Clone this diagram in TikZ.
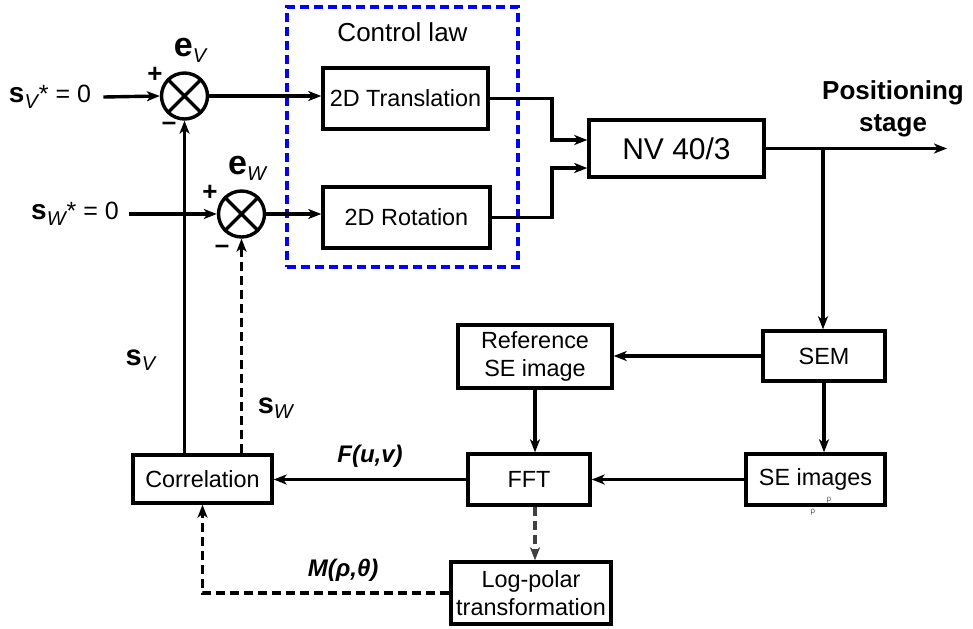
\documentclass[tikz,border=0pt]{standalone}
\usepackage{fontspec}
\setmainfont{Liberation Sans}
\usetikzlibrary{positioning,arrows.meta,calc}

\newcommand{\varlbl}[3]{{\fontsize{#3}{#3}\selectfont\bfseries #1}\textsubscript{\fontsize{10}{12}\selectfont\itshape #2}}

\begin{document}
\begin{tikzpicture}[
  x=0.5pt, y=-0.5pt,
  font=\fontsize{11.7}{14}\selectfont,
  box/.style={draw, line width=1.7pt, align=center, inner sep=1pt, fill=white},
  sumnode/.style={draw, circle, line width=1.7pt, minimum size=23pt, inner sep=0pt},
  sig/.style={-{Stealth[length=6.5pt, width=5pt, inset=1.8pt]}, line width=1.7pt},
  sigd/.style={sig, dash pattern=on 4.5pt off 2.5pt},
  lbl/.style={font=\fontsize{13}{16}\selectfont\bfseries, inner sep=1pt, align=center},
  flbl/.style={font=\fontsize{12}{14}\selectfont\bfseries\itshape, inner sep=1pt}
]
\useasboundingbox (0,0) rectangle (973,628);

% control law frame
\node[draw=blue, line width=1.7pt, dash pattern=on 4.5pt off 2.5pt,
      minimum width=115.5pt, minimum height=130pt] (law) at (402.5,137) {};
\node[below=5pt of law.north, font=\fontsize{13}{15}\selectfont] {Control law};

% blocks
\node[box, minimum width=82.5pt, minimum height=30.5pt] (trans) at (405.5,98.5) {2D Translation};
\node[box, minimum width=83.5pt, minimum height=30.5pt] (rot) at (406.5,217.5) {2D Rotation};
\node[box, minimum width=87.5pt, minimum height=28.5pt, font=\fontsize{15}{17}\selectfont] (nv) at (676.5,148.5) {NV 40/3};
\node[box, minimum width=61pt, minimum height=25pt] (sem) at (824,356) {SEM};
\node[box, minimum width=77pt, minimum height=31.5pt] (ref) at (535,356.5) {Reference\\SE image};
\node[box, minimum width=61pt, minimum height=25.5pt] (fft) at (529,479.5) {FFT};
\node[box, minimum width=69.5pt, minimum height=25.5pt] (seimg) at (815.5,479.5) {SE images};
\node[box, minimum width=69.5pt, minimum height=24pt] (corr) at (202.5,479) {Correlation};
\node[box, minimum width=80pt, minimum height=31pt] (logp) at (531,593) {Log-polar\\transformation};

% comparators
\node[sumnode] (ev) at (184.5,96) {};
\node[sumnode] (ew) at (241.5,214) {};
\foreach \c in {ev,ew}
  \draw[line width=1.7pt] (\c.north east) -- (\c.south west) (\c.north west) -- (\c.south east);
\node[above=1pt of ev, xshift=3pt] {\varlbl{e}{V}{17}};
\node[above=1pt of ew, xshift=3pt] {\varlbl{e}{W}{17}};
\node[font=\fontsize{13}{15}\selectfont\bfseries] at (155,75) {+};
\node[font=\fontsize{13}{15}\selectfont\bfseries] at (210,193) {+};
\node[font=\fontsize{13}{15}\selectfont\bfseries] at (169,126) {–};
\node[font=\fontsize{13}{15}\selectfont\bfseries] at (222,249) {–};

% references
\node[font=\fontsize{12.5}{15}\selectfont, inner sep=6pt] (svin) at (50,97) {\varlbl{s}{V}{14}* = 0};
\node[font=\fontsize{12.5}{15}\selectfont, inner sep=5pt] (swin) at (75,214) {\varlbl{s}{W}{14}* = 0};

\coordinate (mx) at (552,0);
\coordinate (br) at (823,148.5);
\coordinate (out) at (947,148.5);

% forward path
\draw[sig] (svin.east) -- (ev.west);
\draw[sig] (swin.east) -- (ew.west);
\draw[sig] (ev.east) -- (ev.east -| trans.west);
\draw[sig] (ew.east) -- (ew.east -| rot.west);
\draw[sig] (trans.east) -- (trans.east -| mx) |- ([yshift=4.25pt]nv.west);
\draw[sig] (rot.east) -- (rot.east -| mx) |- ([yshift=-9.75pt]nv.west);
\draw[sig] (nv.east) -- (out);
\node[lbl] at (893,109) {Positioning\\stage};

% vision loop
\draw[sig] (br) -- (br |- sem.north);
\draw[sig] (sem.west) -- (sem.west -| ref.east);
\draw[sig] (sem.south) -- (sem.south |- seimg.north);
\draw[sig] (ref.south) -- (ref.south |- fft.north);
\draw[sig] (seimg.west) -- (seimg.west -| fft.east);
\draw[sig] (fft.west) -- (fft.west -| corr.east) node[midway, above=4pt, flbl] {F(u,v)};
\draw[sigd, black!75] (ref.south |- fft.south) -- (ref.south |- logp.north);
\draw[sigd] (logp.west) -| (corr.south) node[pos=0.215, above=4pt, flbl] {M(ρ,θ)};

% feedback
\draw[sig] (ev.south |- corr.north) -- (ev.south) node[pos=0.28, left=10pt] {\varlbl{s}{V}{14.5}};
\draw[sigd] (ew.south |- corr.north) -- (ew.south) node[pos=0.21, right=4pt] {\varlbl{s}{W}{14.5}};

% stray marks
\node[font=\fontsize{4}{4}\selectfont, text=black!70, inner sep=0pt] (rho1) at (829,500) {ρ};
\node[font=\fontsize{4}{4}\selectfont, text=black!70, inner sep=0pt] (rho2) at (813,512) {ρ};
\end{tikzpicture}
\end{document}
